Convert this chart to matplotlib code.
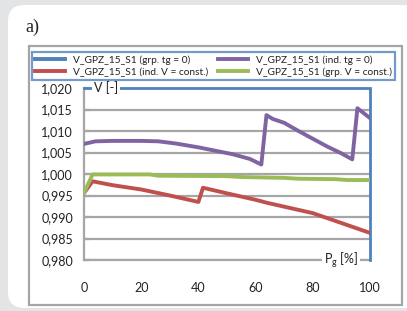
import matplotlib
matplotlib.use("Agg")
import matplotlib.pyplot as plt
from matplotlib.patches import FancyBboxPatch, Rectangle

# ---------------- data ----------------
x_purple = [0, 4, 10, 20, 26, 32, 40, 46, 52, 58, 62, 63.8, 66, 70, 75, 80, 85, 90, 93.8, 95.6, 100]
y_purple = [1.0070, 1.0076, 1.0077, 1.0077, 1.0076, 1.0071, 1.0062, 1.0054, 1.0046, 1.0035, 1.0022,
            1.0137, 1.0128, 1.0119, 1.0100, 1.0082, 1.0064, 1.0048, 1.0034, 1.0153, 1.0130]

x_red = [0, 3, 10, 20, 30, 40, 41.6, 50, 60, 64, 70, 80, 90, 100]
y_red = [0.9956, 0.9983, 0.9974, 0.9964, 0.9950, 0.9935, 0.9968, 0.9955, 0.9940, 0.9933,
         0.9924, 0.9909, 0.9886, 0.9863]

x_green = [0, 3, 23, 26, 50, 55, 70, 75, 88, 92, 100]
y_green = [0.9956, 0.9999, 0.9999, 0.9996, 0.9995, 0.9993, 0.9991, 0.9989, 0.9988, 0.9986, 0.9986]

x_blue = [0, 100, 100]
y_blue = [1.020, 1.020, 0.980]

labels = ["V_GPZ_15_S1 (grp. tg = 0)", "V_GPZ_15_S1 (ind. tg = 0)",
          "V_GPZ_15_S1 (ind. V = const.)", "V_GPZ_15_S1 (grp. V = const.)"]
x_ticks = [0, 20, 40, 60, 80, 100]
y_ticks = [0.980, 0.985, 0.990, 0.995, 1.000, 1.005, 1.010, 1.015, 1.020]
y_tick_labels = ["0,980", "0,985", "0,990", "0,995", "1,000", "1,005", "1,010", "1,015", "1,020"]

# ---------------- style ----------------
W, H = 407, 311
plt.rcParams['font.family'] = ['Lato', 'DejaVu Sans']
C_BLUE, C_PURPLE, C_RED, C_GREEN = "#4F81BD", "#8064A2", "#C0504D", "#9BBB59"
GRID = "#a6a6a6"
LW = 2.8

fig = plt.figure(figsize=(W / 100, H / 100), dpi=100)
fig.patch.set_facecolor("#e3e4e6")

def fx(px):
    return px / W

def fy(py):
    return 1 - py / H

# white rounded panel
panel = FancyBboxPatch((fx(8), fy(308)), fx(420) - fx(8), fy(5) - fy(308),
                       boxstyle="round,pad=0,rounding_size=0.04",
                       transform=fig.transFigure, facecolor="white", edgecolor="none",
                       mutation_aspect=W / H, zorder=0)
fig.patches.append(panel)
# chart frame
frame = Rectangle((fx(29), fy(305)), fx(402) - fx(29), fy(46) - fy(305),
                  transform=fig.transFigure, facecolor="white", edgecolor="#a5a5a5",
                  linewidth=1.6, zorder=0.5)
fig.patches.append(frame)

fig.text(fx(25), fy(27), "a)", family=["Liberation Serif", "DejaVu Serif"], fontsize=13,
         va="center", ha="left", color="#222222")

ax = fig.add_axes([fx(84), fy(260), fx(370) - fx(84), fy(88) - fy(260)])
ax.set_zorder(3)
ax.set_facecolor("none")
ax.set_xlim(0, 100)
ax.set_ylim(0.980, 1.020)

hb, = ax.plot(x_blue, y_blue, color=C_BLUE, lw=2.0, clip_on=False, zorder=3, solid_joinstyle="miter")
hr, = ax.plot(x_red, y_red, color=C_RED, lw=LW, zorder=4)
hp, = ax.plot(x_purple, y_purple, color=C_PURPLE, lw=LW, zorder=4)
hg, = ax.plot(x_green, y_green, color=C_GREEN, lw=LW, zorder=5)

ax.set_yticks(y_ticks)
ax.set_yticklabels(y_tick_labels)
ax.set_xticks(x_ticks)
ax.grid(axis="y", color=GRID, lw=1.6, zorder=1)
ax.set_axisbelow(True)
for s in ["top", "right"]:
    ax.spines[s].set_visible(False)
for s in ["left", "bottom"]:
    ax.spines[s].set_color(GRID)
    ax.spines[s].set_linewidth(1.6)
    ax.spines[s].set_zorder(2)
ax.tick_params(axis="y", direction="in", length=4, width=1.6, color=GRID, pad=8,
               labelsize=9, labelcolor="#222222")
ax.tick_params(axis="x", length=0, pad=16, labelsize=9, labelcolor="#222222")

ax.text(fx(98) - fx(84), 1.0, "V [-]", transform=ax.transAxes, ha="left", va="center",
        fontsize=9, color="#222222", zorder=6,
        bbox=dict(facecolor="white", edgecolor="none", pad=1.5))
ax.text(1 - (370 - 358) / 286, 0.0, "P$_\\mathregular{g}$ [%]", transform=ax.transAxes,
        ha="right", va="center", fontsize=9, color="#222222", zorder=6,
        bbox=dict(facecolor="white", edgecolor="none", pad=1.5))

handles = [hb, hr, hp, hg]
leg = fig.legend(handles, [labels[0], labels[2], labels[1], labels[3]], ncol=2,
                 loc="center", bbox_to_anchor=(fx((32 + 395) / 2), fy(66)),
                 fontsize=7.3, frameon=True, fancybox=False, handlelength=3.0,
                 handletextpad=0.8, columnspacing=0.9, borderpad=0.3, labelspacing=0.25,
                 borderaxespad=0)
leg.set_zorder(5)
leg.get_frame().set_edgecolor(C_BLUE)
leg.get_frame().set_linewidth(1.6)
for line in leg.get_lines():
    line.set_linewidth(LW)
for t in leg.get_texts():
    t.set_color("#222222")

fig.savefig("out.png", dpi=100)
